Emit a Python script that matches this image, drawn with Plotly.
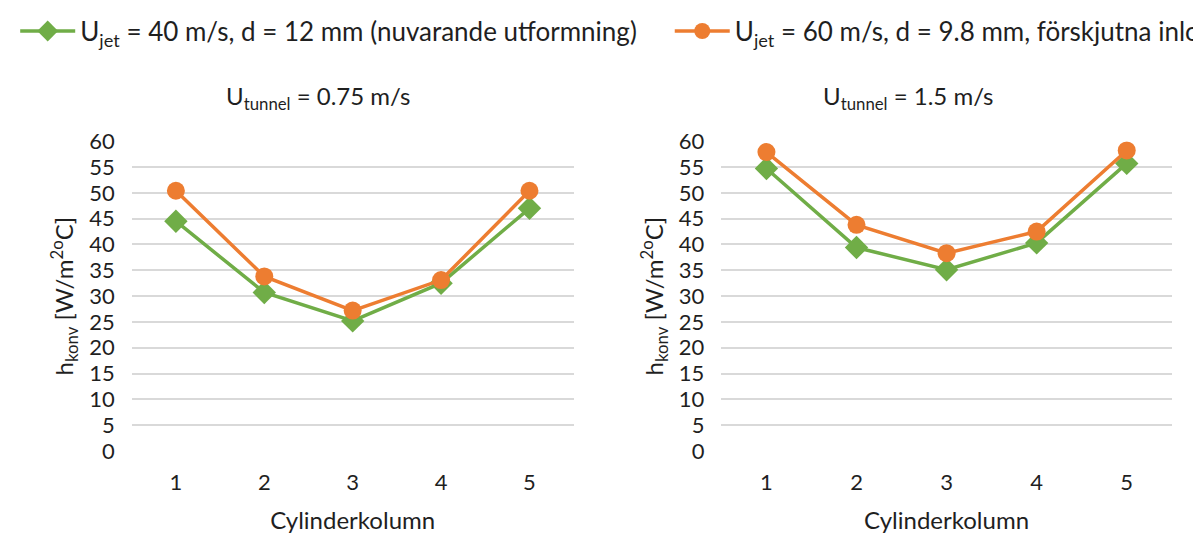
import plotly.graph_objects as go

columns = [1, 2, 3, 4, 5]
tick_labels = ["1", "2", "3", "4", "5"]

# U_tunnel = 0.75 m/s
left_40 = [44.5, 30.7, 25.2, 32.5, 47.0]
left_60 = [50.4, 33.8, 27.2, 33.1, 50.4]
# U_tunnel = 1.5 m/s
right_40 = [54.7, 39.4, 35.1, 40.3, 55.7]
right_60 = [57.9, 43.8, 38.3, 42.5, 58.2]

name_40 = "U<sub>jet</sub> = 40 m/s, d = 12 mm (nuvarande utformning)"
name_60 = "U<sub>jet</sub> = 60 m/s, d = 9.8 mm, förskjutna inlopp"
title_left = "U<sub>tunnel</sub> = 0.75 m/s"
title_right = "U<sub>tunnel</sub> = 1.5 m/s"
y_title = "h<sub>konv</sub> [W/m<sup>2o</sup>C]"
x_title = "Cylinderkolumn"
y_ticks = list(range(0, 61, 5))

GREEN = "#70AD47"
ORANGE = "#ED7D31"
FONT = "Lato"
TXT = "#1f1f1f"

fig = go.Figure()

def add_pair(xa, ya, s40, s60, show):
    fig.add_trace(go.Scatter(
        x=columns, y=s40, xaxis=xa, yaxis=ya, name=name_40, legend="legend",
        mode="lines+markers", line=dict(color=GREEN, width=3.5),
        marker=dict(symbol="diamond", size=18, color=GREEN), showlegend=show))
    fig.add_trace(go.Scatter(
        x=columns, y=s60, xaxis=xa, yaxis=ya, name=name_60, legend="legend2",
        mode="lines+markers", line=dict(color=ORANGE, width=3.5),
        marker=dict(symbol="circle", size=18, color=ORANGE), showlegend=show))

add_pair("x", "y", left_40, left_60, True)
add_pair("x2", "y2", right_40, right_60, False)

xcommon = dict(range=[0.5, 5.5], tickvals=columns, ticktext=tick_labels,
               showgrid=False, zeroline=False, showline=False, automargin=False,
               tickfont=dict(size=22, color=TXT, family=FONT),
               ticklabelstandoff=16,
               title=dict(text=x_title, font=dict(size=24, color=TXT, family=FONT), standoff=18))
ycommon = dict(range=[0, 60], tickvals=y_ticks, showgrid=True, gridcolor="#D9D9D9",
               gridwidth=1.5, zeroline=False, showline=False, automargin=False,
               tickfont=dict(size=22, color=TXT, family=FONT),
               ticklabelstandoff=16,
               title=dict(text=y_title, font=dict(size=24, color=TXT, family=FONT), standoff=8))

fig.update_layout(
    width=1201, height=537,
    margin=dict(l=0, r=0, t=0, b=0, autoexpand=False),
    paper_bgcolor="white", plot_bgcolor="white",
    font=dict(family=FONT, color=TXT),
    xaxis=dict(domain=[0.103, 0.471], anchor="y", **xcommon),
    yaxis=dict(domain=[0.175, 0.752], anchor="x", **ycommon),
    xaxis2=dict(domain=[0.594, 0.969], anchor="y2", **xcommon),
    yaxis2=dict(domain=[0.175, 0.752], anchor="x2", **ycommon),
    legend=dict(orientation="h", x=0.006, xanchor="left", y=0.957, yanchor="middle",
                itemwidth=55, font=dict(size=26, color=TXT, family=FONT),
                bgcolor="rgba(0,0,0,0)"),
    legend2=dict(orientation="h", x=0.551, xanchor="left", y=0.957, yanchor="middle",
                 itemwidth=55, font=dict(size=26, color=TXT, family=FONT),
                 bgcolor="rgba(0,0,0,0)"),
    annotations=[
        dict(text=title_left, x=0.258, y=0.834, xref="paper", yref="paper",
             xanchor="center", yanchor="middle",
             showarrow=False, font=dict(size=24, color=TXT, family=FONT)),
        dict(text=title_right, x=0.75, y=0.834, xref="paper", yref="paper",
             xanchor="center", yanchor="middle",
             showarrow=False, font=dict(size=24, color=TXT, family=FONT)),
    ],
)

fig.write_html("out.html")
